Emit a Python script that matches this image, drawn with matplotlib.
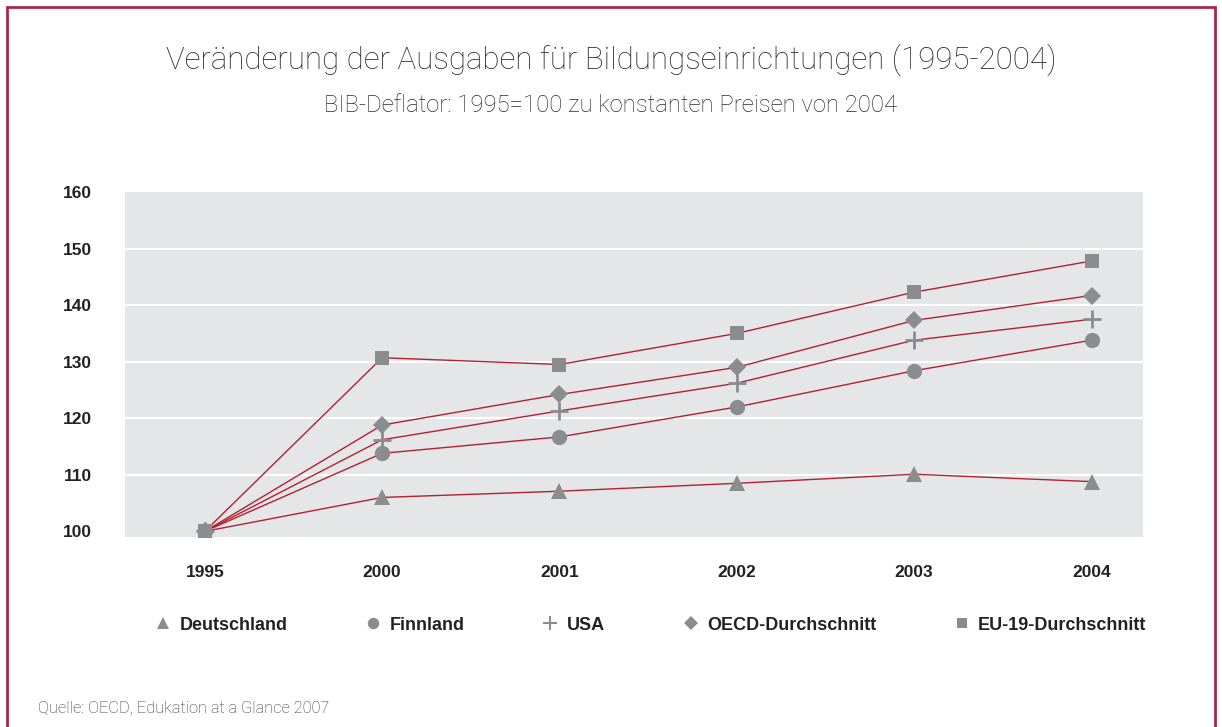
import matplotlib
matplotlib.use("Agg")
import matplotlib.pyplot as plt
from matplotlib.lines import Line2D
from matplotlib.patches import Rectangle

# Daten
years = ["1995", "2000", "2001", "2002", "2003", "2004"]
deutschland = [100, 106.0, 107.1, 108.5, 110.1, 108.8]
finnland = [100, 113.8, 116.7, 122.0, 128.4, 133.8]
usa = [100, 116.2, 121.3, 126.2, 133.8, 137.5]
oecd = [100, 118.8, 124.2, 129.0, 137.3, 141.7]
eu19 = [100, 130.7, 129.5, 135.0, 142.3, 147.8]

series_names = ["Deutschland", "Finnland", "USA", "OECD-Durchschnitt", "EU-19-Durchschnitt"]
yticks = [100, 110, 120, 130, 140, 150, 160]

LINE = "#b3212f"
MARK = "#8b8c90"
BG = "#e5e6e8"
FRAME = "#ad2649"

fig = plt.figure(figsize=(12.22, 7.27), dpi=100)
ax = fig.add_axes([0.1023, 0.2613, 0.833, 0.4746])
ax.set_facecolor(BG)

x = list(range(len(years)))
styles = [
    (deutschland, "^", 11, 0),
    (finnland, "o", 11, 0),
    (usa, "+", 13, 2),
    (oecd, "D", 9, 0),
    (eu19, "s", 10, 0),
]
for vals, m, ms, mew in styles:
    ax.plot(x, vals, color=LINE, lw=1.0, marker=m, markersize=ms,
            markerfacecolor=MARK, markeredgecolor=MARK, markeredgewidth=mew,
            zorder=3)

ax.set_xlim(-0.45, 5.29)
ax.set_ylim(99, 160)
ax.set_xticks(x)
ax.set_xticklabels(years)
ax.set_yticks(yticks)
for yv in yticks[1:-1]:
    ax.axhline(yv, color="white", lw=1.5, zorder=1)

for s in ax.spines.values():
    s.set_visible(False)
ax.tick_params(length=0)
ax.tick_params(axis="y", pad=24)
ax.tick_params(axis="x", pad=20)
for lab in ax.get_xticklabels() + ax.get_yticklabels():
    lab.set_fontfamily("Liberation Sans")
    lab.set_fontweight("bold")
    lab.set_fontsize(12.5)
    lab.set_color("#222222")

# Legende
handles = []
for (vals, m, ms, mew), name in zip(styles, series_names):
    handles.append(Line2D([], [], linestyle="none", marker=m, markersize=ms * 0.75,
                          markerfacecolor=MARK, markeredgecolor=MARK,
                          markeredgewidth=mew * 0.75, label=name))
leg = fig.legend(handles=handles, loc="center", bbox_to_anchor=(0.533, 1 - 625 / 727),
                 ncol=5, frameon=False, columnspacing=4.35, handlelength=0.8,
                 handletextpad=0.5,
                 prop={"family": "Liberation Sans", "weight": "bold", "size": 13})
for t in leg.get_texts():
    t.set_color("#222222")

# Titel
fig.text(0.5, 1 - 60 / 727, "Veränderung der Ausgaben für Bildungseinrichtungen (1995-2004)",
         ha="center", va="center", fontsize=22.5, fontfamily="Roboto", fontweight="light",
         color="#2a2a2a")
fig.text(0.5, 1 - 106 / 727, "BIB-Deflator: 1995=100 zu konstanten Preisen von 2004",
         ha="center", va="center", fontsize=17.2, fontfamily="Roboto", fontweight="light",
         color="#2a2a2a")
fig.text(38 / 1222, 1 - 708 / 727, "Quelle: OECD, Edukation at a Glance 2007",
         ha="left", va="center", fontsize=11.8, fontfamily="Roboto", fontweight="light",
         color="#333333")

# Rahmen
fig.patches.append(Rectangle((7 / 1222, -0.05), 1208 / 1222, 1.05 - 7 / 727,
                             transform=fig.transFigure, fill=False,
                             edgecolor=FRAME, lw=2))

fig.savefig("out.png", dpi=100)
